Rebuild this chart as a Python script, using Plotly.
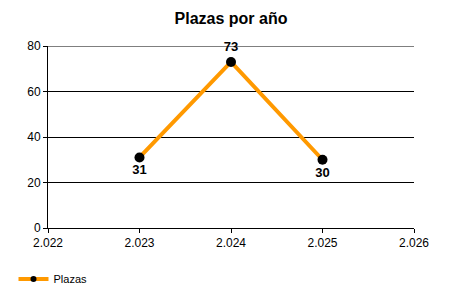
import plotly.graph_objects as go

years = [2023, 2024, 2025]
plazas = [31, 73, 30]
label_pos = ["bottom center", "top center", "bottom center"]
x_ticks = [2022, 2023, 2024, 2025, 2026]
x_tick_labels = ["2.022", "2.023", "2.024", "2.025", "2.026"]
y_ticks = [0, 20, 40, 60, 80]

fig = go.Figure()
fig.add_trace(go.Scatter(
    x=years, y=plazas, mode="lines+markers+text", name="Plazas",
    line=dict(color="#FF9900", width=4),
    marker=dict(color="black", size=10),
    text=[str(v) for v in plazas], textposition=label_pos,
    textfont=dict(family="Liberation Sans, Arial", size=13, color="black", weight="bold"),
    cliponaxis=False, showlegend=False,
))
# legend-only entry with smaller marker
fig.add_trace(go.Scatter(
    x=[None], y=[None], mode="lines+markers", name="Plazas",
    line=dict(color="#FF9900", width=4), marker=dict(color="black", size=6),
    showlegend=True,
))
# top gridline at the axis maximum
fig.add_shape(type="line", xref="paper", x0=0, x1=1, yref="y", y0=y_ticks[-1], y1=y_ticks[-1],
              line=dict(color="black", width=1), layer="below")
fig.update_layout(
    width=450, height=300,
    margin=dict(l=48, r=36, t=46, b=72),
    paper_bgcolor="white", plot_bgcolor="white",
    title=dict(text="<b>Plazas por año</b>", x=0.5, xanchor="center", y=0.94, yanchor="middle",
               xref="paper", font=dict(family="Liberation Sans, Arial", size=16, color="black")),
    font=dict(family="Liberation Sans, Arial", size=12, color="black"),
    xaxis=dict(range=[2022, 2026], tickvals=x_ticks, ticktext=x_tick_labels,
               showgrid=False, zeroline=False, showline=True, linecolor="black", linewidth=1,
               ticks="outside", ticklen=4, tickcolor="black", tickfont=dict(size=12)),
    yaxis=dict(range=[0, 80], tickvals=y_ticks, showgrid=True, gridcolor="black", gridwidth=1,
               zeroline=False, showline=True, linecolor="black", linewidth=1,
               ticks="outside", ticklen=4, tickcolor="black", tickfont=dict(size=12)),
    showlegend=True,
    legend=dict(orientation="h", x=0.03, xref="container", y=0.07, yref="container",
                xanchor="left", yanchor="middle", font=dict(size=11), itemwidth=30),
)
fig.write_html("out.html")
